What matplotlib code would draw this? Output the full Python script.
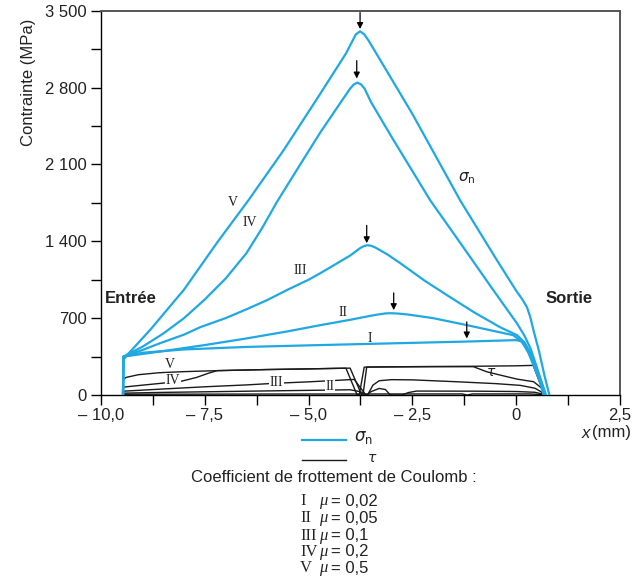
import matplotlib
matplotlib.use("Agg")
import matplotlib.pyplot as plt
from matplotlib.lines import Line2D

plt.rcParams['font.family'] = ['Liberation Sans', 'DejaVu Sans']

# --- sigma_n curves (MPa) vs x (mm) ---
x_sn_I = [-9.47, -9.46, -9.0, -8.0, -6.5, -4.72, -2.5, -1.18, 0.0, 0.12, 0.25, 0.4, 0.55, 0.66]
sn_I = [0, 350, 385, 415, 438, 455, 475, 487, 500, 490, 430, 300, 150, 0]

x_sn_II = [-9.47, -9.46, -8.5, -7.5, -6.5, -5.5, -4.72, -4.0, -3.5, -3.3, -3.15, -3.03, -2.85,
           -2.6, -2.0, -1.18, -0.5, -0.07, 0.15, 0.3, 0.45, 0.6, 0.68]
sn_II = [0, 350, 400, 455, 515, 580, 636, 685, 722, 735, 743, 745, 742,
         733, 700, 636, 580, 545, 480, 380, 240, 100, 0]

x_sn_III = [-9.47, -9.46, -9.0, -8.57, -8.0, -7.61, -7.0, -6.5, -6.0, -5.5, -5.0, -4.72, -4.4,
            -4.0, -3.75, -3.67, -3.59, -3.5, -3.4, -3.1, -2.79, -2.2, -1.59, -1.0, -0.39, 0.02,
            0.2, 0.35, 0.5, 0.62, 0.7]
sn_III = [0, 350, 410, 473, 550, 618, 700, 780, 864, 960, 1050, 1109, 1180,
          1270, 1340, 1356, 1364, 1360, 1345, 1280, 1200, 1040, 891, 750, 618, 545,
          480, 380, 230, 100, 0]

x_sn_IV = [-9.47, -9.46, -9.0, -8.5, -8.0, -7.5, -7.0, -6.5, -6.12, -5.76, -5.2, -4.72, -4.2,
           -4.0, -3.92, -3.83, -3.74, -3.65, -3.5, -3.0, -2.07, -1.3, -0.55, 0.02, 0.2, 0.35,
           0.5, 0.62, 0.72]
sn_IV = [0, 350, 440, 560, 700, 870, 1060, 1290, 1520, 1760, 2100, 2390, 2680,
         2790, 2825, 2845, 2830, 2790, 2670, 2350, 1773, 1360, 955, 652, 540, 420,
         250, 110, 0]

x_sn_V = [-9.47, -9.46, -9.38, -8.8, -8.0, -7.2, -6.45, -5.6, -4.72, -4.1, -3.95, -3.86, -3.76,
          -3.66, -3.55, -3.4, -2.5, -1.35, -0.5, 0.0, 0.15, 0.26, 0.34, 0.41, 0.55, 0.68, 0.8]
sn_V = [0, 320, 360, 600, 960, 1390, 1773, 2230, 2743, 3110, 3220, 3285, 3312,
        3285, 3225, 3130, 2560, 1773, 1250, 950, 870, 800, 710, 600, 400, 180, 0]

# --- tau curves (MPa) vs x (mm) ---
x_tau_I = [-9.47, -9.46, -6.0, -1.3, -1.18, -1.05, 0.3, 0.6, 0.68]
tau_I = [0, 7, 9, 10, 0, 10, 10, 5, 0]

x_tau_II = [-9.47, -9.46, -8.5, -7.0, -5.5, -4.48, -4.0, -3.75, -3.6, -3.5, -3.3, -3.15, -3.03,
            -2.75, -2.6, -2.4, -1.0, 0.0, 0.45, 0.62, 0.68]
tau_II = [0, 17, 24, 32, 40, 45, 48, 30, 0, 30, 60, 50, 0,
          0, 22, 36, 35, 32, 25, 10, 0]

x_tau_III = [-9.47, -9.46, -8.5, -7.5, -6.5, -5.8, -5.0, -4.4, -4.0, -3.9, -3.62, -3.58, -3.45,
             -3.3, -3.0, -2.5, -1.5, -0.5, 0.1, 0.45, 0.6, 0.67]
tau_III = [0, 35, 55, 75, 92, 107, 120, 132, 140, 142, 0, 0, 90,
           130, 140, 138, 122, 104, 88, 62, 30, 0]

x_tau_IV = [-9.47, -9.46, -9.0, -8.57, -8.05, -7.7, -7.4, -7.2, -6.0, -5.0, -4.3, -4.1, -3.83,
            -3.78, -3.66, -3.0, -2.0, -1.03, -0.71, -0.39, 0.02, 0.42, 0.62, 0.67]
tau_IV = [0, 72, 90, 106, 127, 160, 200, 222, 232, 238, 243, 244, 0,
          0, 254, 256, 258, 258, 212, 182, 145, 121, 61, 0]

x_tau_V = [-9.47, -9.46, -9.4, -9.1, -8.6, -8.0, -7.2, -6.0, -5.0, -4.3, -4.0, -3.72, -3.69,
           -3.6, -3.0, -2.0, -1.0, 0.0, 0.41, 0.55, 0.7]
tau_V = [0, 140, 160, 185, 203, 213, 222, 232, 238, 243, 245, 0, 0,
         255, 257, 260, 262, 266, 270, 130, 0]

# arrows marking the maximum of sigma_n (I..V)
arrow_x = [-1.19, -2.95, -3.6, -3.84, -3.76]
arrow_top = [666, 930, 1545, 3045, 3483]
arrow_tip = [515, 773, 1382, 2882, 3333]

roman = ['I', 'II', 'III', 'IV', 'V']
mu_values = ['0,02', '0,05', '0,1', '0,2', '0,5']

# label positions on the curves
sn_label_xy = [(-3.52, 518), (-4.17, 755), (-5.2, 1136), (-6.41, 1573), (-6.82, 1755)]
tau_label_xy = [(-4.48, 82), (-5.78, 118), (-8.26, 136), (-8.33, 282)]
tau_label_txt = ['II', 'III', 'IV', 'V']

xticks = [-10, -7.5, -5, -2.5, 0, 2.5]
xticklabels = ['\u2013 10,0', '\u2013 7,5', '\u2013 5,0', '\u2013 2,5', '0', '2,5']
yticks = [0, 700, 1400, 2100, 2800, 3500]
yticklabels = ['0', '700', '1 400', '2 100', '2 800', '3 500']

blue = '#1FA8E2'
dark = '#1a1a1a'
serif = 'Liberation Serif'

fig = plt.figure(figsize=(6.4, 5.81), dpi=100)
ax = fig.add_axes([0.1578, 0.3201, 0.8109, 0.6615])

for xs, ys in [(x_tau_I, tau_I), (x_tau_II, tau_II), (x_tau_III, tau_III),
               (x_tau_IV, tau_IV), (x_tau_V, tau_V)]:
    ax.plot(xs, ys, color=dark, lw=1.0, zorder=2)

for xs, ys in [(x_sn_I, sn_I), (x_sn_II, sn_II), (x_sn_III, sn_III),
               (x_sn_IV, sn_IV), (x_sn_V, sn_V)]:
    ax.plot(xs, ys, color=blue, lw=1.6, zorder=3, solid_joinstyle='round')

for xa, yt, yp in zip(arrow_x, arrow_top, arrow_tip):
    ax.annotate('', xy=(xa, yp), xytext=(xa, yt),
                arrowprops=dict(arrowstyle='-|>', color='k', lw=0.9,
                                mutation_scale=9, shrinkA=0, shrinkB=0))

for txt, (xl, yl) in zip(roman, sn_label_xy):
    ax.text(xl, yl, txt, family=serif, fontsize=10, ha='center', va='center', color='#222')

for txt, (xl, yl) in zip(tau_label_txt, tau_label_xy):
    ax.text(xl, yl, txt, family=serif, fontsize=10, ha='center', va='center', color='#222',
            zorder=4, bbox=dict(facecolor='white', edgecolor='none', pad=0.5))
ax.text(-0.6, 209, r'$\tau$', fontsize=10, ha='center', va='center', color='#222')
ax.text(-1.2, 1973, r'$\sigma_{\mathrm{n}}$', fontsize=11, ha='center', va='center', color='#222')

ax.text(-9.27, 882, 'Entrée', fontsize=12, fontweight='bold', ha='center', va='center', color='#222')
ax.text(1.28, 882, 'Sortie', fontsize=12, fontweight='bold', ha='center', va='center', color='#222')

ax.set_xlim(-10, 2.5)
ax.set_ylim(0, 3500)
ax.set_xticks(xticks)
ax.set_xticklabels(xticklabels)
ax.set_xticks([-8.75, -6.25, -3.75, -1.25, 1.25], minor=True)
ax.set_yticks(yticks)
ax.set_yticklabels(yticklabels)
ax.set_yticks([350, 1050, 1750, 2450, 3150], minor=True)
ax.tick_params(which='both', direction='out', length=7, width=1, labelsize=12,
               labelcolor='#222', pad=3)
ax.tick_params(axis='x', pad=2)

for side in ['left', 'bottom']:
    ax.spines[side].set_color('black')
    ax.spines[side].set_linewidth(1.0)
for side in ['top', 'right']:
    ax.spines[side].set_color('#555555')
    ax.spines[side].set_linewidth(1.4)

fig.text(28 / 640, 1 - 82 / 581, 'Contrainte (MPa)', rotation=90, fontsize=12,
         ha='center', va='center', color='#222')
fig.text(590 / 640, 1 - 433 / 581, 'x', fontsize=12, style='italic', ha='right', va='center', color='#222')
fig.text(592 / 640, 1 - 433 / 581, '(mm)', fontsize=12, ha='left', va='center', color='#222')

# legend block below the axes
fig.add_artist(Line2D([302 / 640, 346 / 640], [1 - 440 / 581] * 2, color=blue, lw=1.6))
fig.add_artist(Line2D([302 / 640, 346 / 640], [1 - 460 / 581] * 2, color=dark, lw=1.0))
fig.text(354 / 640, 1 - 438 / 581, r'$\sigma_{\mathrm{n}}$', fontsize=12, ha='left', va='center', color='#222')
fig.text(367 / 640, 1 - 458 / 581, r'$\tau$', fontsize=10, ha='left', va='center', color='#222')
fig.text(334 / 640, 1 - 478 / 581, 'Coefficient de frottement de Coulomb :', fontsize=12,
         ha='center', va='center', color='#222')

row_y = [501, 518.5, 535.5, 552, 568.5]
for txt, val, py in zip(roman, mu_values, row_y):
    yf = 1 - py / 581
    fig.text(300 / 640, yf, txt, family=serif, fontsize=12, ha='left', va='center', color='#222')
    fig.text(319 / 640, yf, '\u03bc', family=serif, style='italic', fontsize=12,
             ha='left', va='center', color='#222')
    fig.text(331 / 640, yf, '= ' + val, fontsize=12, ha='left', va='center', color='#222')

fig.savefig('out.png', dpi=100)
